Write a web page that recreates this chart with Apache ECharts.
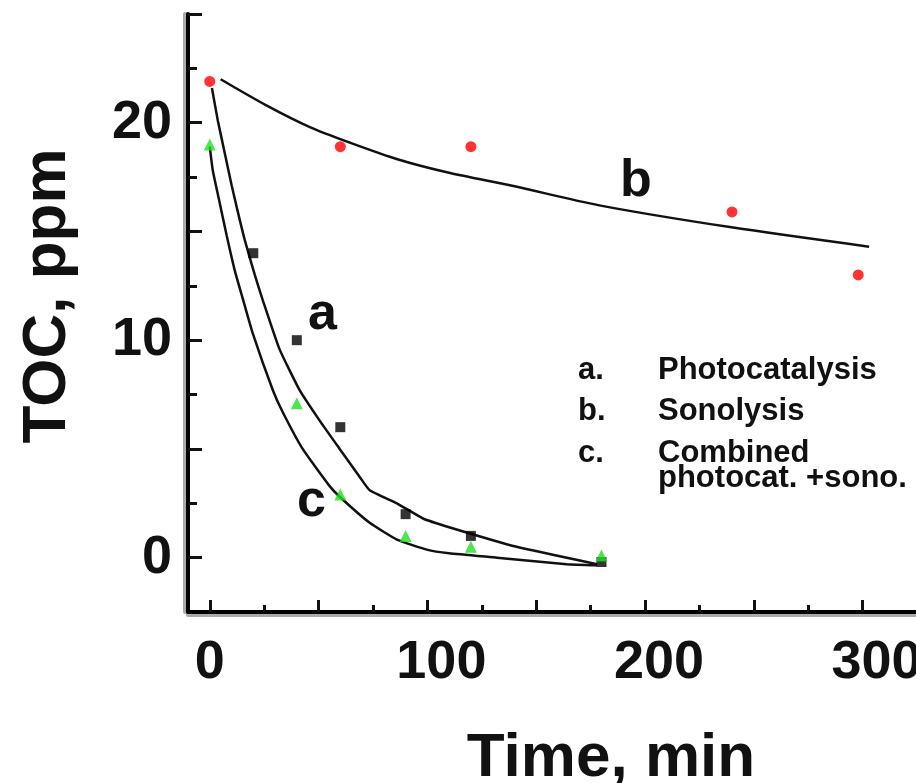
<!DOCTYPE html>
<html>
<head>
<meta charset="utf-8">
<title>TOC vs time</title>
<script src="https://cdn.jsdelivr.net/npm/echarts@6/dist/echarts.min.js"></script>
<style>
    html, body { margin: 0; padding: 0; background: #fff; }
    #chart { width: 916px; height: 783px; }
</style>
</head>
<body>
<div id="chart"></div>
<script>
// measured points (time in min, TOC in ppm)
const photocatPoints = [[20, 14], [40, 10], [60, 6], [90, 2], [120, 1], [180, -0.2]];
const sonolysisPoints = [[0, 21.9], [60, 18.9], [120, 18.9], [240, 15.9], [298, 13]];
const combinedPoints = [[0, 19], [40, 7.1], [60, 2.9], [90, 1], [120, 0.5], [180, 0.1]];

// fitted curves
const photocatFit = [[1, 21.6], [3.7, 20.1], [6.9, 18.6], [10.1, 17.1], [12.9, 15.9], [16.1, 14.6], [20.7, 13.0], [24.5, 11.8],
    [32, 9.6], [41.3, 7.7], [50.5, 6.3], [59.7, 5.0], [69, 3.7], [73.5, 3.1], [86, 2.5], [98, 1.8], [110, 1.4], [141, 0.5], [178, -0.3]];
const sonolysisFit = [[5, 22.0], [26, 20.8], [46, 19.8], [64, 19.1], [87, 18.3], [110, 17.7], [139, 17.1], [179, 16.2], [239, 15.2], [303, 14.3]];
const combinedFit = [[0, 18.9], [1.4, 17.8], [4.6, 16.3], [7.8, 14.8], [11.5, 13.2], [15.2, 11.9], [19.8, 10.3], [29, 7.7], [33.5, 6.7],
    [42.7, 5.0], [55, 3.3], [59.7, 2.8], [73.5, 1.6], [86, 0.83], [99.7, 0.37], [110, 0.2], [132, 0], [164, -0.3], [178, -0.35]];

const xMajorTicks = [0, 50, 100, 150, 200, 250, 300];
const xMinorTicks = [25, 75, 125, 175, 225, 275];
const xTickLabels = [0, 100, 200, 300];
const yMajorTicks = [0, 5, 10, 15, 20, 25];
const yMinorTicks = [2.5, 7.5, 12.5, 17.5, 22.5];
const yTickLabels = [0, 10, 20];

const legendRows = [
    ['a.', 'Photocatalysis'],
    ['b.', 'Sonolysis'],
    ['c.', 'Combined'],
    ['', 'photocat. +sono.']
];

const FONT = "'Liberation Sans', Arial, Helvetica, sans-serif";
const chart = echarts.init(document.getElementById('chart'));

function xAxisDef(ticks, len, showLine, labels) {
    return {
        type: 'value', position: 'bottom', min: -10, max: 325,
        axisLine: {
            show: showLine, onZero: false,
            lineStyle: { color: '#000', width: 4, shadowColor: '#aaa', shadowOffsetY: 3 }
        },
        axisTick: { show: true, inside: true, length: len, customValues: ticks, lineStyle: { color: '#111', width: 3 } },
        axisLabel: labels ? {
            show: true, customValues: labels, margin: 24,
            color: '#111', fontFamily: FONT, fontSize: 54, fontWeight: 'bold',
            formatter: v => v === 0 ? '{z|0}' : '{s|' + v + '}',
            rich: {
                z: { fontFamily: FONT, fontSize: 54, fontWeight: 'bold', color: '#111' },
                s: { fontFamily: FONT, fontSize: 54, fontWeight: 'bold', color: '#111', padding: [0, 0, 0, 28] }
            }
        } : { show: false },
        splitLine: { show: false }
    };
}

function yAxisDef(ticks, len, showLine, labels) {
    return {
        type: 'value', position: 'left', min: -2.5, max: 25,
        axisLine: {
            show: showLine, onZero: false,
            lineStyle: { color: '#000', width: 4, shadowColor: '#aaa', shadowOffsetX: -3 }
        },
        axisTick: { show: true, inside: true, length: len, customValues: ticks, lineStyle: { color: '#111', width: 3 } },
        axisLabel: labels ? {
            show: true, customValues: labels, margin: 16, padding: [26, 0, 0, 0],
            color: '#111', fontFamily: FONT, fontSize: 54, fontWeight: 'bold'
        } : { show: false },
        splitLine: { show: false }
    };
}

function fitLine(data, smooth) {
    return {
        type: 'line', data: data, smooth: smooth, showSymbol: false, silent: true,
        lineStyle: { color: '#111', width: 2.5 }, z: 2
    };
}

function text(str, x, y, size, extra) {
    return Object.assign({
        type: 'text', x: x, y: y,
        style: {
            text: str, fill: '#111', font: 'bold ' + size + 'px ' + FONT,
            align: 'left', verticalAlign: 'middle'
        }
    }, extra || {});
}

const graphics = [
    text('TOC, ppm', 48, 296, 62, { rotation: Math.PI / 2, style: { text: 'TOC, ppm', fill: '#111', font: 'bold 62px ' + FONT, align: 'center', verticalAlign: 'middle' } }),
    text('Time, min', 611, 759, 62, { style: { text: 'Time, min', fill: '#111', font: 'bold 62px ' + FONT, align: 'center', verticalAlign: 'middle' } }),
    text('a', 308, 315, 52),
    text('b', 620, 182, 52),
    text('c', 297, 502, 52)
];
const legendY = [370, 411, 453, 478];
legendRows.forEach((row, i) => {
    if (row[0]) graphics.push(text(row[0], 578, legendY[i], 31));
    graphics.push(text(row[1], 658, legendY[i], 31));
});

chart.setOption({
    backgroundColor: '#fff',
    animation: false,
    grid: { left: 188, top: 14, width: 729, height: 598, containLabel: false, outerBoundsMode: 'none' },
    xAxis: [
        xAxisDef(xMajorTicks, 12, true, xTickLabels),
        xAxisDef(xMinorTicks, 7, false, null)
    ],
    yAxis: [
        yAxisDef(yMajorTicks, 14, true, yTickLabels),
        yAxisDef(yMinorTicks, 9, false, null)
    ],
    graphic: graphics,
    series: [
        fitLine(sonolysisFit, 0.3),
        fitLine(photocatFit, 0.15),
        fitLine(combinedFit, 0.15),
        {
            type: 'scatter', data: photocatPoints, symbol: 'rect', symbolSize: 10,
            itemStyle: { color: '#000' }, z: 3
        },
        {
            type: 'scatter', data: sonolysisPoints, symbol: 'circle', symbolSize: 11,
            itemStyle: { color: '#ff0000' }, z: 3
        },
        {
            type: 'scatter', data: combinedPoints, symbol: 'triangle', symbolSize: 12,
            itemStyle: { color: '#22e022' }, z: 4
        }
    ]
});
</script>
</body>
</html>
